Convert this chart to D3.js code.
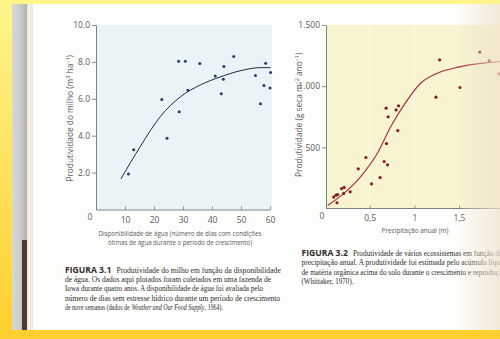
<!DOCTYPE html>
<html><head><meta charset="utf-8">
<script src="https://cdn.jsdelivr.net/npm/d3@7"></script>
<style>
html,body{margin:0;padding:0;background:#fff;}
svg{display:block;}
.tick text{font-family:"Liberation Sans Narrow","Open Sans",sans-serif;}
</style></head>
<body>
<svg id="c" width="500" height="339"></svg>
<script>
// ---- Figure 3.1 data: corn yield vs water availability ----
const cornDays  = [11.2,13.0,22.7,24.5,28.5,28.7,30.8,31.7,35.8,41.1,43.2,43.9,44.1,47.5,55.0,56.7,57.9,58.5,60.0,60.2];
const cornYield = [1.93,3.24,5.96,3.86,8.04,5.30,8.04,6.47,7.91,7.23,6.27,7.06,7.75,8.29,7.26,5.73,6.72,7.93,6.58,7.42];
const cornFitDays  = [8.6,15.3,22.2,29.2,36.1,43.1,50.0,56.9,60.2];
const cornFitYield = [1.66,3.42,5.04,6.12,6.76,7.20,7.53,7.69,7.69];
const cornTickX = [10,20,30,40,50,60];
const cornTickY = [2,4,6,8,10];
const cornTickYLabels = ["2.0","4.0","6.0","8.0","10.0"];

// ---- Figure 3.2 data: productivity vs annual precipitation ----
const precRain = [0.097,0.123,0.142,0.134,0.186,0.209,0.215,0.282,0.372,0.458,0.521,0.617,0.662,0.684,0.689,0.700,0.707,0.796,0.815,0.823,1.242,1.283,1.510,1.733,1.838,1.945];
const precProd = [93,109,114,47,163,123,172,136,324,417,202,253,384,820,531,357,749,806,637,839,910,1215,989,1278,1209,1100];
const precFitRain = [0.03,0.215,0.40,0.588,0.737,0.885,1.07,1.258,1.518,1.964];
const precFitProd = [25,126,261,453,670,847,1024,1106,1160,1201];
const precTickX = [0.5,1,1.5];
const precTickXLabels = ["0,5","1","1,5"];
const precTickY = [500,1000,1500];
const precTickYLabels = ["500","1.000","1.500"];

// ---- captions (segments: [text, kind]) ----
const cap1 = [
  [["FIGURA 3.1","b"],["Produtividade do milho em função da disponibilidade","r"]],
  [["de água. Os dados aqui plotados foram coletados em uma fazenda de","r"]],
  [["Iowa durante quatro anos. A disponibilidade de água foi avaliada pelo","r"]],
  [["número de dias sem estresse hídrico durante um período de crescimento","r"]],
  [["de nove semanas (dados de","r"],["Weather and Our Food Supply","i"],[", 1964).","r"]]
];
const cap2 = [
  [["FIGURA 3.2","b"],["Produtividade de vários ecossistemas em função da","r"]],
  [["precipitação anual. A produtividade foi estimada pelo acúmulo líquido","r"]],
  [["de matéria orgânica acima do solo durante o crescimento e reprodução","r"]],
  [["(Whittaker, 1970).","r"]]
];
// gap (px) placed after each segment of a caption line
const capGap = {b:5, r:2.2, i:0.3};

const svg = d3.select("#c");
const defs = svg.append("defs");

// page / scan background
const gl = defs.append("linearGradient").attr("id","yl").attr("x1",0).attr("y1",0).attr("x2",0).attr("y2",1);
gl.append("stop").attr("offset",0).attr("stop-color","#fff58e");
gl.append("stop").attr("offset",1).attr("stop-color","#ffcf2e");
svg.append("rect").attr("width",500).attr("height",339).attr("fill","url(#yl)");
svg.append("rect").attr("x",12).attr("y",4).attr("width",488).attr("height",326).attr("fill","#fdfdfb");
svg.append("rect").attr("x",0).attr("y",0).attr("width",500).attr("height",4).attr("fill","#fff58a");
// gutter
const gg = defs.append("linearGradient").attr("id","gut").attr("x1",0).attr("x2",1).attr("y1",0).attr("y2",0);
gg.append("stop").attr("offset",0).attr("stop-color","#d6d9d4");
gg.append("stop").attr("offset",0.6).attr("stop-color","#c8cbc6");
gg.append("stop").attr("offset",1).attr("stop-color","#aeafa9");
svg.append("rect").attr("x",12).attr("y",4).attr("width",15).attr("height",326).attr("fill","url(#gut)");
svg.append("rect").attr("x",22).attr("y",240).attr("width",5).attr("height",90).attr("fill","#4a3a34");
svg.append("rect").attr("x",27).attr("y",4).attr("width",6).attr("height",326).attr("fill","#f1e9db");
svg.append("rect").attr("x",29).attr("y",4).attr("width",1).attr("height",326).attr("fill","#fbf7ef");

const tickFont = "'Liberation Sans Narrow','Open Sans',sans-serif";
const greyTxt = "#5c5c5c";

// ================= Figure 3.1 =================
const x1 = d3.scaleLinear().domain([0,60]).range([96,270]);
const y1 = d3.scaleLinear().domain([0,10]).range([209.5,25]);
svg.append("rect").attr("x",x1(0)).attr("y",y1(10)).attr("width",x1(60)-x1(0)+2).attr("height",y1(0)-y1(10)).attr("fill","#eaf4f6");

const ax1 = svg.append("g").attr("transform",`translate(0,${y1(0)})`)
  .call(d3.axisBottom(x1).tickValues(cornTickX).tickSizeInner(-3).tickSizeOuter(0).tickPadding(7));
const ay1 = svg.append("g").attr("transform",`translate(${x1(0)},0)`)
  .call(d3.axisLeft(y1).tickValues(cornTickY).tickFormat((d,i)=>cornTickYLabels[i]).tickSize(4).tickSizeOuter(0).tickPadding(2));
[ax1,ay1].forEach(a=>{
  a.select(".domain").attr("stroke","#6f7478").attr("stroke-width",0.9);
  a.selectAll(".tick line").attr("stroke","#6f7478").attr("stroke-width",0.8);
  a.selectAll(".tick text").attr("fill",greyTxt).style("font-size","8.5px").style("font-family",tickFont);
});
svg.append("text").attr("x",x1(0)-6).attr("y",y1(0)+10.5).attr("text-anchor","middle")
  .attr("fill",greyTxt).style("font-size","8.5px").style("font-family",tickFont).text("0");

svg.append("path").datum(d3.range(cornFitDays.length))
  .attr("fill","none").attr("stroke","#1f2b4d").attr("stroke-width",1)
  .attr("d",d3.line().x(i=>x1(cornFitDays[i])).y(i=>y1(cornFitYield[i])).curve(d3.curveMonotoneX));
svg.append("g").selectAll("circle").data(d3.range(cornDays.length)).join("circle")
  .attr("cx",i=>x1(cornDays[i])).attr("cy",i=>y1(cornYield[i])).attr("r",1.5).attr("fill","#2a3a6e");

const lab1 = svg.append("text").attr("transform",`translate(73,${(y1(0)+y1(10))/2+1}) rotate(-90)`)
  .attr("text-anchor","middle").attr("fill",greyTxt).style("font-size","8.3px").style("font-family","'Open Sans',sans-serif");
lab1.append("tspan").text("Produtividade do milho (m");
lab1.append("tspan").attr("dy",-3).style("font-size","5.5px").text("3");
lab1.append("tspan").attr("dy",3).text(" ha");
lab1.append("tspan").attr("dy",-3).style("font-size","5.5px").text("−1");
lab1.append("tspan").attr("dy",3).text(")");

const xt1 = ["Disponibilidade de água (número de dias com condições","ótimas de água durante o período de crescimento)"];
const xt1W = [163,144];
xt1.forEach((t,i)=>svg.append("text").attr("x",180).attr("y",236+i*9.3).attr("text-anchor","middle")
  .attr("fill",greyTxt).style("font-size","7.8px").style("font-family",tickFont)
  .attr("textLength",xt1W[i]).attr("lengthAdjust","spacingAndGlyphs").text(t));

// ================= Figure 3.2 =================
const x2 = d3.scaleLinear().domain([0,1.5]).range([325,459]);
const y2 = d3.scaleLinear().domain([0,1500]).range([208.5,25]);
svg.append("rect").attr("x",326).attr("y",y2(1500)).attr("width",180).attr("height",y2(0)-y2(1500)).attr("fill","#f8f4cf");
svg.append("g").selectAll("line").data(precTickX).join("line")
  .attr("x1",d=>x2(d)).attr("x2",d=>x2(d)).attr("y1",y2(1500)).attr("y2",y2(0))
  .attr("stroke","#ffffff").attr("stroke-opacity",0.7).attr("stroke-width",0.8);

const ax2 = svg.append("g").attr("transform",`translate(0,${y2(0)})`)
  .call(d3.axisBottom(x2).tickValues(precTickX).tickFormat((d,i)=>precTickXLabels[i]).tickSizeInner(-3).tickSizeOuter(0).tickPadding(6));
ax2.select(".domain").attr("d",`M326,0H500`);
const ay2 = svg.append("g").attr("transform",`translate(326,0)`)
  .call(d3.axisLeft(y2).tickValues(precTickY).tickFormat((d,i)=>precTickYLabels[i]).tickSize(4).tickSizeOuter(0).tickPadding(2));
[ax2,ay2].forEach(a=>{
  a.select(".domain").attr("stroke","#6f7478").attr("stroke-width",0.9);
  a.selectAll(".tick line").attr("stroke","#6f7478").attr("stroke-width",0.8);
  a.selectAll(".tick text").attr("fill",greyTxt).style("font-size","8.5px").style("font-family",tickFont);
});
svg.append("text").attr("x",x2(0)-3).attr("y",y2(0)+10).attr("text-anchor","middle")
  .attr("fill",greyTxt).style("font-size","8.5px").style("font-family",tickFont).text("0");

svg.append("path").datum(d3.range(precFitRain.length))
  .attr("fill","none").attr("stroke","#a52a3c").attr("stroke-width",1.1)
  .attr("d",d3.line().x(i=>x2(precFitRain[i])).y(i=>y2(precFitProd[i])).curve(d3.curveMonotoneX));
svg.append("g").selectAll("circle").data(d3.range(precRain.length)).join("circle")
  .attr("cx",i=>x2(precRain[i])).attr("cy",i=>y2(precProd[i])).attr("r",1.6).attr("fill","#8a1a2c");

const lab2 = svg.append("text").attr("transform",`translate(301.5,${(y2(0)+y2(1500))/2-2}) rotate(-90)`)
  .attr("text-anchor","middle").attr("fill",greyTxt).style("font-size","8.3px").style("font-family","'Open Sans',sans-serif");
lab2.append("tspan").text("Produtividade (g seca m");
lab2.append("tspan").attr("dy",-3).style("font-size","5.5px").text("−2");
lab2.append("tspan").attr("dy",3).text(" ano");
lab2.append("tspan").attr("dy",-3).style("font-size","5.5px").text("−1");
lab2.append("tspan").attr("dy",3).text(")");

svg.append("text").attr("x",415).attr("y",232.5).attr("text-anchor","middle")
  .attr("fill",greyTxt).style("font-size","7.8px").style("font-family",tickFont)
  .attr("textLength",67).attr("lengthAdjust","spacingAndGlyphs").text("Precipitação anual (m)");

// ================= captions =================
const serif = "'Liberation Serif','DejaVu Serif',serif";
function caption(lines, x0, y0, lh, widths){
  lines.forEach((segs,i)=>{
    const g = svg.append("g");
    const nodes = segs.map(([txt,kind])=>{
      const t = g.append("text").attr("y",y0+i*lh).attr("fill","#2e2e2e")
        .style("font-size", kind==="b" ? "8.6px" : "9.2px")
        .style("font-family", kind==="b" ? tickFont : serif)
        .style("font-weight", kind==="b" ? "bold" : "normal")
        .style("font-style", kind==="i" ? "italic" : "normal")
        .text(txt);
      return {t, kind, w: t.node().getComputedTextLength()};
    });
    const gaps = nodes.slice(0,-1).reduce((s,n)=>s+capGap[n.kind],0);
    const total = d3.sum(nodes, n=>n.w);
    const f = (widths[i]-gaps)/total;
    let x = x0;
    nodes.forEach(n=>{
      const w = n.kind==="b" ? n.w : n.w*f;
      n.t.attr("x",x).attr("textLength",w).attr("lengthAdjust","spacingAndGlyphs");
      x += w + capGap[n.kind];
    });
  });
}
caption(cap1, 65, 272.5, 9.4, [208,206,198,215,158]);
caption(cap2, 301.5, 256, 9.3, [191,208,204,52]);

// page curl shading on right edge
const sh = defs.append("linearGradient").attr("id","sh").attr("x1",0).attr("x2",1).attr("y1",0).attr("y2",0);
sh.append("stop").attr("offset",0).attr("stop-color","#efe2cc").attr("stop-opacity",0);
sh.append("stop").attr("offset",1).attr("stop-color","#efe2cc").attr("stop-opacity",0.75);
svg.append("rect").attr("x",455).attr("y",4).attr("width",45).attr("height",326).attr("fill","url(#sh)");
</script>
</body></html>
